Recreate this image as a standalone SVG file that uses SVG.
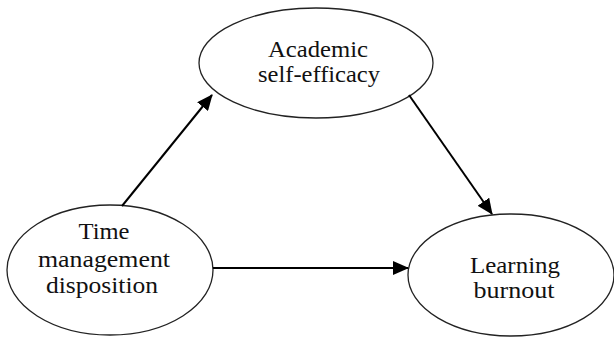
<svg xmlns="http://www.w3.org/2000/svg" width="614" height="337" viewBox="0 0 614 337">
<style>
.node ellipse{fill:#fff;stroke:#222;stroke-width:1.3}
.node text{font-family:"Liberation Serif","Times New Roman",serif;font-size:23px;fill:#111;text-anchor:middle}
.edge{stroke:#000;stroke-width:2;fill:none;marker-end:url(#ah)}
</style>
<defs>
<marker id="ah" markerWidth="16" markerHeight="14" refX="15" refY="7" orient="auto" markerUnits="userSpaceOnUse">
<path d="M0,0 L16,7 L0,14 Z" fill="#000"/>
</marker>
</defs>
<rect width="614" height="337" fill="#fff"/>
<g id="academic-self-efficacy" class="node">
<ellipse cx="316" cy="63" rx="117" ry="55"/>
<text x="318" y="57" textLength="100" lengthAdjust="spacingAndGlyphs">Academic</text>
<text x="319" y="82" textLength="122" lengthAdjust="spacingAndGlyphs">self-efficacy</text>
</g>
<g id="time-management-disposition" class="node">
<ellipse cx="110" cy="270" rx="103" ry="65"/>
<text x="104" y="239" textLength="51" lengthAdjust="spacingAndGlyphs">Time</text>
<text x="104" y="267" textLength="132" lengthAdjust="spacingAndGlyphs">management</text>
<text x="102" y="293" textLength="112" lengthAdjust="spacingAndGlyphs">disposition</text>
</g>
<g id="learning-burnout" class="node">
<ellipse cx="511" cy="275" rx="103" ry="61"/>
<text x="515" y="273" textLength="90" lengthAdjust="spacingAndGlyphs">Learning</text>
<text x="514" y="298" textLength="81" lengthAdjust="spacingAndGlyphs">burnout</text>
</g>
<g id="connectors">
<line class="edge" x1="122" y1="206" x2="212" y2="95"/>
<line class="edge" x1="409" y1="95" x2="492" y2="214"/>
<line class="edge" x1="213" y1="268" x2="408" y2="268"/>
</g>
</svg>
